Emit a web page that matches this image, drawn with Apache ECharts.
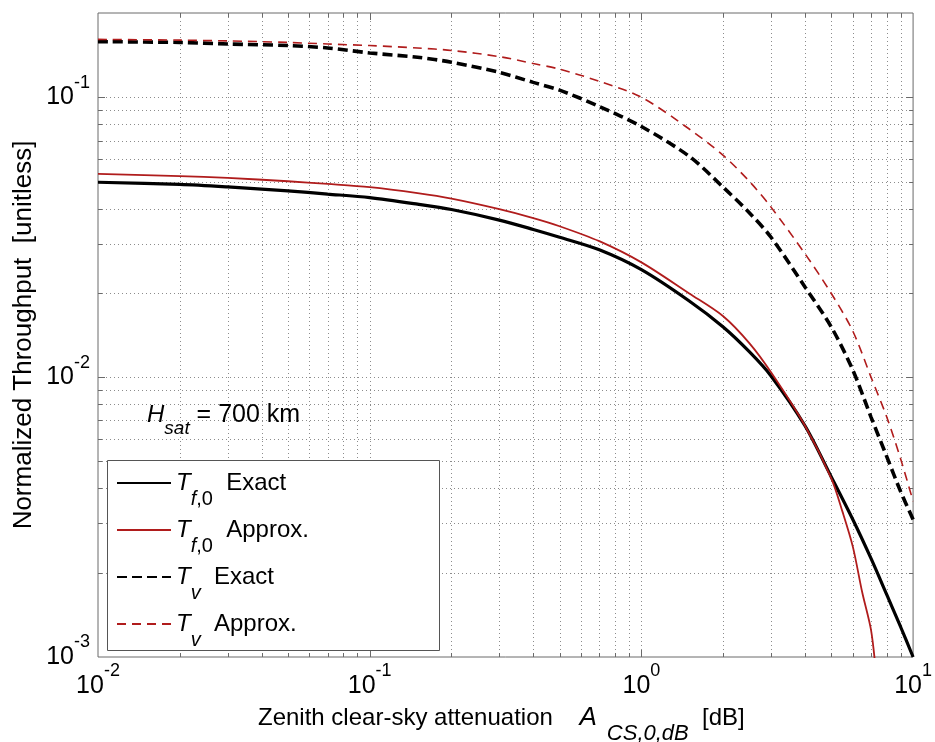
<!DOCTYPE html>
<html>
<head>
<meta charset="utf-8">
<script src="https://cdn.jsdelivr.net/npm/echarts@6/dist/echarts.min.js"></script>
<style>
html, body { margin: 0; padding: 0; background: #fff; }
#chart { width: 935px; height: 742px; }
</style>
</head>
<body>
<div id="chart"></div>
<script>
// zenith clear-sky attenuation [dB]
var attenuation = [0.01, 0.02, 0.03, 0.05, 0.07, 0.1, 0.15, 0.2, 0.3, 0.4, 0.5, 0.7, 1, 1.5, 2, 2.5, 3, 4, 5, 6, 7, 8, 9, 10];
var tf0Exact = [0.0497, 0.0488, 0.0478, 0.0463, 0.0451, 0.0438, 0.0415, 0.0397, 0.0364, 0.0337, 0.0316, 0.0285, 0.0242, 0.0187, 0.0151, 0.0123, 0.0101, 0.0067, 0.0044, 0.0031, 0.00225, 0.00167, 0.00128, 0.00100];
var tvExact = [0.158, 0.157, 0.155, 0.153, 0.150, 0.144, 0.139, 0.1334, 0.1227, 0.113, 0.106, 0.0927, 0.0786, 0.0615, 0.0477, 0.0386, 0.0316, 0.0210, 0.0151, 0.0106, 0.0072, 0.0052, 0.0039, 0.0031];
var tvApprox = [0.161, 0.160, 0.159, 0.157, 0.155, 0.153, 0.150, 0.147, 0.1397, 0.132, 0.126, 0.114, 0.100, 0.077, 0.062, 0.050, 0.0405, 0.0276, 0.0199, 0.0146, 0.0100, 0.0072, 0.0051, 0.0036];
// the approx. T_f,0 curve drops out of the plot before 10 dB
var attenuationApprox = [0.01, 0.02, 0.03, 0.05, 0.07, 0.1, 0.15, 0.2, 0.3, 0.4, 0.5, 0.7, 1, 1.5, 2, 2.5, 3, 4, 5, 5.5, 6, 6.5, 7, 7.3];
var tf0Approx = [0.0532, 0.0523, 0.0515, 0.0501, 0.0490, 0.0477, 0.0454, 0.0434, 0.0398, 0.0370, 0.0346, 0.0306, 0.0257, 0.0199, 0.0165, 0.0132, 0.0104, 0.0067, 0.00435, 0.0033, 0.00248, 0.0017, 0.00125, 0.00088];

var xRange = [0.01, 10];
var yRange = [0.001, 0.2];
var xDecades = [0.01, 0.1, 1];
var yDecades = [0.001, 0.01, 0.1];

var FONT = '"Liberation Sans", Arial, sans-serif';
var RED = '#b01c1c';
var AXIS = '#6a6a6a';

// grid positions: 1..9 times every decade, inside the range
function gridValues(decades, range) {
	var out = [];
	decades.forEach(function (d) {
		for (var k = 1; k <= 9; k++) {
			var v = +(k * d).toPrecision(6);
			if (v > range[0] && v < range[1]) out.push(v);
		}
	});
	return out;
}
var xGrid = gridValues(xDecades, xRange);
var yGrid = gridValues(yDecades, yRange);

function isDecade(v) {
	var e = Math.log10(v);
	return Math.abs(e - Math.round(e)) < 1e-6;
}
function pairs(xs, ys) {
	return xs.map(function (x, i) { return [x, ys[i]]; });
}
function powLabel(v) {
	if (!isDecade(v)) return '';
	return '{b|10}{s|' + Math.round(Math.log10(v)) + '}';
}

var tickRich = {
	b: { fontSize: 25, lineHeight: 30, color: '#000', fontFamily: FONT },
	s: { fontSize: 18, lineHeight: 30, color: '#000', fontFamily: FONT, padding: [0, 0, 29, 0] }
};

function dotted(x1, y1, x2, y2) {
	return { type: 'line', silent: true, shape: { x1: x1, y1: y1, x2: x2, y2: y2 },
		style: { stroke: '#8c8c8c', lineWidth: 1, lineDash: [1, 3] } };
}
function tick(x1, y1, x2, y2) {
	return { type: 'line', silent: true, shape: { x1: x1, y1: y1, x2: x2, y2: y2 },
		style: { stroke: AXIS, lineWidth: 1 } };
}

// vertical grid lines and ticks on top/bottom edges
function renderXGrid(params, api) {
	var cs = params.coordSys;
	var v = api.value(0);
	var px = Math.round(api.coord([v, yRange[0]])[0]) + 0.5;
	var len = isDecade(v) ? 7 : 4;
	var top = cs.y, bottom = cs.y + cs.height;
	return { type: 'group', children: [
		dotted(px, top, px, bottom),
		tick(px, bottom, px, bottom - len),
		tick(px, top, px, top + len)
	] };
}
// horizontal grid lines and ticks on left/right edges
function renderYGrid(params, api) {
	var cs = params.coordSys;
	var v = api.value(1);
	var py = Math.round(api.coord([xRange[0], v])[1]) + 0.5;
	var len = isDecade(v) ? 7 : 4;
	var left = cs.x, right = cs.x + cs.width;
	return { type: 'group', children: [
		dotted(left, py, right, py),
		tick(left, py, left + len, py),
		tick(right, py, right - len, py)
	] };
}

var names = ['Tf,0 Exact', 'Tf,0 Approx.', 'Tv Exact', 'Tv Approx.'];
var legendText = {
	'Tf,0 Exact': '{t|T}{si|f}{s|,0}{n|  Exact}',
	'Tf,0 Approx.': '{t|T}{si|f}{s|,0}{n|  Approx.}',
	'Tv Exact': '{t|T}{si|v}{n|  Exact}',
	'Tv Approx.': '{t|T}{si|v}{n|  Approx.}'
};

var chart = echarts.init(document.getElementById('chart'));
var option = {
	animation: false,
	backgroundColor: '#fff',
	textStyle: { fontFamily: FONT },
	grid: {
		left: 98, right: 13, top: 13, bottom: 85,
		show: true, backgroundColor: '#fff', borderColor: AXIS, borderWidth: 1
	},
	xAxis: {
		type: 'log', logBase: 10, min: xRange[0], max: xRange[1],
		axisLine: { show: false }, axisTick: { show: false }, splitLine: { show: false },
		axisLabel: { margin: 14, formatter: powLabel, rich: tickRich }
	},
	yAxis: {
		type: 'log', logBase: 10, min: yRange[0], max: yRange[1],
		axisLine: { show: false }, axisTick: { show: false }, splitLine: { show: false },
		axisLabel: { margin: 8, formatter: powLabel, rich: tickRich }
	},
	legend: {
		data: names,
		orient: 'vertical',
		left: 116, top: 457,
		padding: 0,
		itemWidth: 54, itemHeight: 14, itemGap: -5,
		itemStyle: { opacity: 0 },
		z: 20,
		formatter: function (name) { return legendText[name]; },
		textStyle: {
			color: '#000',
			rich: {
				t: { fontSize: 24, fontStyle: 'italic', lineHeight: 30, color: '#000', fontFamily: FONT },
				si: { fontSize: 20, fontStyle: 'italic', lineHeight: 30, color: '#000', fontFamily: FONT, padding: [32, 0, 0, 0] },
				s: { fontSize: 20, lineHeight: 30, color: '#000', fontFamily: FONT, padding: [32, 0, 0, 0] },
				n: { fontSize: 24, lineHeight: 30, color: '#000', fontFamily: FONT }
			}
		}
	},
	graphic: [
		{
			type: 'rect', z: 10, silent: true,
			shape: { x: 107.5, y: 460.5, width: 332, height: 190 },
			style: { fill: '#fff', stroke: '#555', lineWidth: 1 }
		},
		{
			type: 'text', z: 10, silent: true, x: 147, y: 415,
			style: {
				text: '{h|H}{s|sat}{n| = 700 km}',
				align: 'left', verticalAlign: 'middle', fill: '#000',
				rich: {
					h: { fontSize: 24, fontStyle: 'italic', lineHeight: 30, fontFamily: FONT, fill: '#000' },
					s: { fontSize: 19, fontStyle: 'italic', lineHeight: 30, fontFamily: FONT, fill: '#000', padding: [28, 0, 0, 0] },
					n: { fontSize: 25, lineHeight: 30, fontFamily: FONT, fill: '#000' }
				}
			}
		},
		{
			type: 'text', z: 10, silent: true, x: 258, y: 718,
			style: {
				text: '{n|Zenith clear-sky attenuation    }{i|A}{s|CS,0,dB}{n|  [dB]}',
				align: 'left', verticalAlign: 'middle', fill: '#000',
				rich: {
					n: { fontSize: 24, lineHeight: 30, fontFamily: FONT, fill: '#000' },
					i: { fontSize: 26, fontStyle: 'italic', lineHeight: 30, fontFamily: FONT, fill: '#000' },
					s: { fontSize: 22, fontStyle: 'italic', lineHeight: 30, fontFamily: FONT, fill: '#000', padding: [32, 0, 0, 10] }
				}
			}
		},
		{
			type: 'text', z: 10, silent: true, x: 24, y: 335, rotation: Math.PI / 2,
			style: {
				text: 'Normalized Throughput  [unitless]',
				font: '26px ' + FONT, fill: '#000',
				align: 'center', verticalAlign: 'middle'
			}
		}
	],
	series: [
		{
			name: 'xgrid', type: 'custom', z: 1, silent: true, clip: false,
			data: xGrid.map(function (v) { return [v, yRange[0]]; }),
			renderItem: renderXGrid
		},
		{
			name: 'ygrid', type: 'custom', z: 1, silent: true, clip: false,
			data: yGrid.map(function (v) { return [xRange[0], v]; }),
			renderItem: renderYGrid
		},
		{
			name: names[0], type: 'line', z: 5, showSymbol: false, symbol: 'none', smooth: 0.3,
			color: '#000',
			lineStyle: { color: '#000', width: 3.2, type: 'solid' },
			data: pairs(attenuation, tf0Exact)
		},
		{
			name: names[1], type: 'line', z: 5, showSymbol: false, symbol: 'none', smooth: 0.3,
			color: RED,
			lineStyle: { color: RED, width: 1.8, type: 'solid' },
			data: pairs(attenuationApprox, tf0Approx)
		},
		{
			name: names[2], type: 'line', z: 5, showSymbol: false, symbol: 'none', smooth: 0.3,
			color: '#000',
			lineStyle: { color: '#000', width: 3.6, type: [10, 5] },
			data: pairs(attenuation, tvExact)
		},
		{
			name: names[3], type: 'line', z: 5, showSymbol: false, symbol: 'none', smooth: 0.3,
			color: RED,
			lineStyle: { color: RED, width: 1.6, type: [9, 6] },
			data: pairs(attenuation, tvApprox)
		}
	]
};
chart.setOption(option);
</script>
</body>
</html>
